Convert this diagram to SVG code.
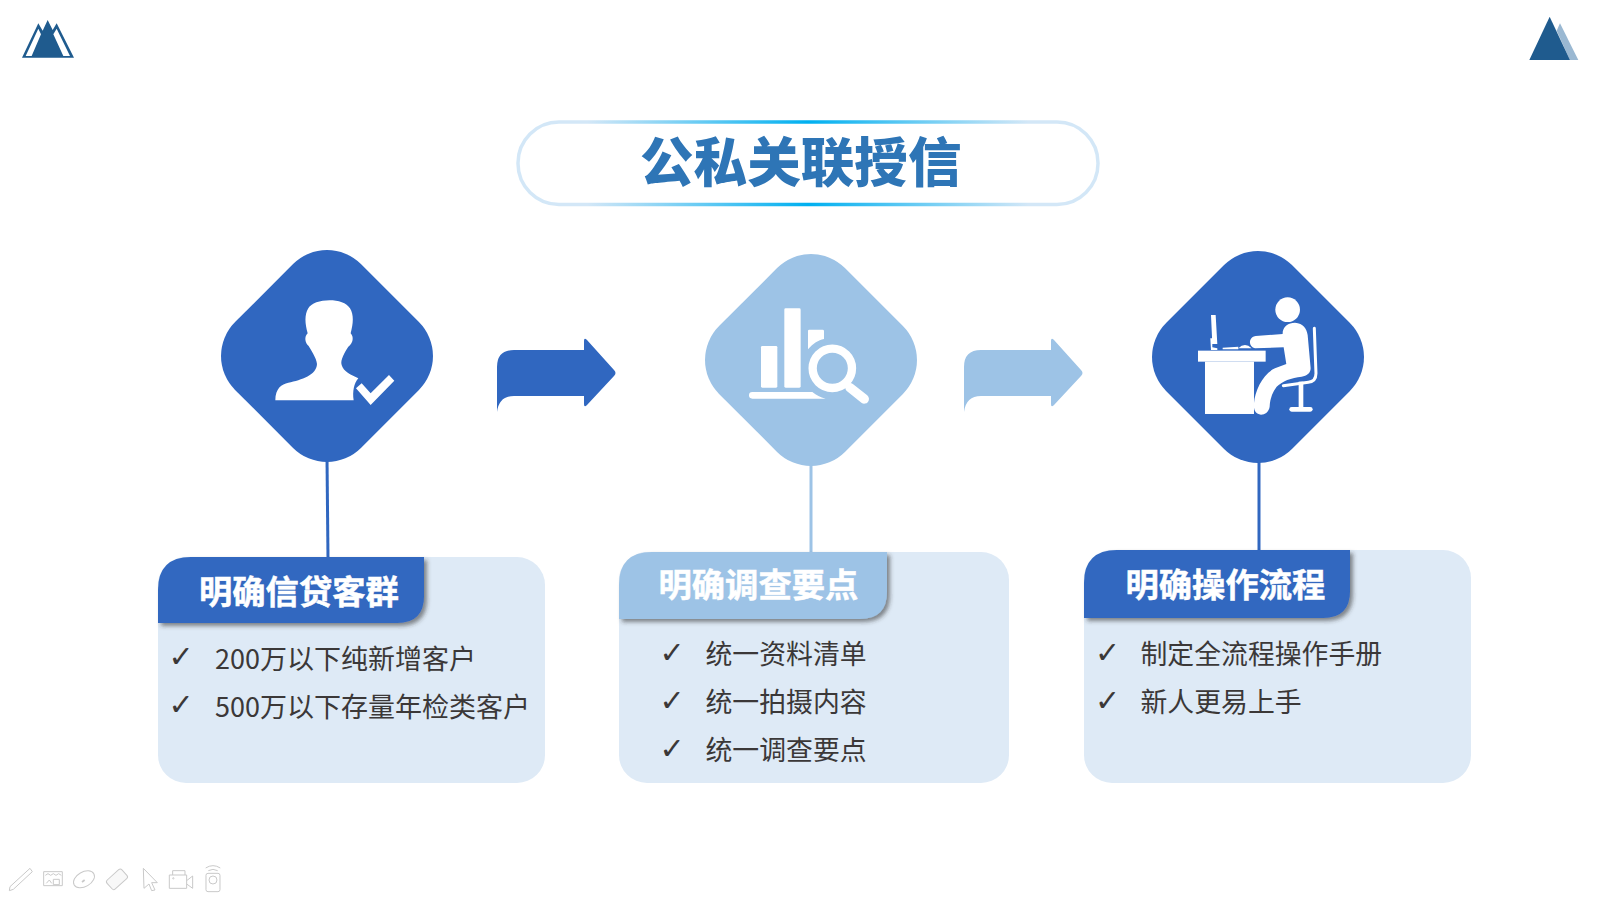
<svg xmlns="http://www.w3.org/2000/svg" width="1600" height="900" viewBox="0 0 1600 900">
<style>
text{font-family:"Noto Sans CJK SC","Noto Sans",sans-serif}
.title{font-size:53.6px;font-weight:900;fill:#2e75b6}
.head{font-size:33.3px;font-weight:700;fill:#fff;stroke:#fff;stroke-width:.5}
.body{font-size:26.85px;fill:#3b3838}
.chk{font-family:"DejaVu Sans",sans-serif;font-size:30px;fill:#3b3838}
.dk{fill:#3067c0}.lt{fill:#9dc3e6}.wh{fill:#fff}
.panel{fill:#deeaf6}
.tool{fill:none;stroke:#c9c9c9;stroke-width:3}
.ln{fill:none;stroke-width:3}
</style>
<defs>
<linearGradient id="pill" gradientUnits="userSpaceOnUse" x1="518" y1="0" x2="1098" y2="0">
<stop offset="0" stop-color="#d3e7f7"/><stop offset=".12" stop-color="#d3e7f7"/><stop offset=".5" stop-color="#00b0f0"/><stop offset=".88" stop-color="#d3e7f7"/><stop offset="1" stop-color="#d3e7f7"/>
</linearGradient>
<filter id="sh" x="-5%" y="-10%" width="112%" height="130%"><feDropShadow dx="3" dy="3" stdDeviation="2" flood-color="#333" flood-opacity=".55"/></filter>
<rect id="dia" x="-89" y="-89" width="178" height="178" rx="48" transform="rotate(45)"/>
<path id="arr" d="M0,62V17Q0,0 17,0H87V-9Q87,-13 90,-10L117,20Q120,23 117,26L90,55Q87,58 87,54V46H17Q2,46 0,62Z"/>
</defs>
<rect width="1600" height="900" fill="#fff"/>

<g id="logo-left" transform="scale(.3333)">
<path d="M66,173L115,70L128,92L143,60L158,90L170,70L222,173Z" fill="#1f5b8e"/>
<path class="wh" d="M115,86L123,103L95,168H77ZM170,86L210,168H190L160,103Z"/>
</g>
<g id="logo-right" transform="translate(1480 0) scale(.3333)">
<path d="M240,70L295,180H270L230,92Z" fill="#9ab8d2"/>
<path d="M209,50L270,180H148Z" fill="#1f5b8e"/>
</g>

<g id="title">
<rect x="518" y="122" width="580" height="82.5" rx="41" fill="#fff" stroke="url(#pill)" stroke-width="3.5"/>
<text class="title" x="640" y="182">公私关联授信</text>
</g>

<g id="connectors">
<path class="ln" stroke="#3067c0" d="M327,458L328,558"/>
<path class="ln" stroke="#9dc3e6" d="M811,462V553"/>
<path class="ln" stroke="#3067c0" d="M1259,460V551"/>
<use href="#arr" class="dk" x="497" y="350"/>
<use href="#arr" class="lt" x="964" y="350"/>
</g>

<g id="node-1">
<use href="#dia" class="dk" x="327" y="356"/>
<g class="wh" transform="translate(210 240) scale(.3333)">
<path d="M196,481C196,445 215,432 235,428C275,420 320,405 321,372C320,355 300,325 296,318C285,310 282,290 293,280C285,250 283,225 295,205C310,175 400,170 420,205C432,225 430,250 422,280C432,290 430,310 415,320C405,335 390,360 395,375C400,395 425,405 445,415C432,430 427,455 431,481Z"/>
<path d="M438,445L482,495L553,422L537,405L482,460L455,430Z"/>
</g>
<rect class="panel" x="158" y="557" width="387" height="226" rx="28"/>
<path class="dk" filter="url(#sh)" d="M158,623V590Q158,557 191,557H424V596Q424,623 397,623Z"/>
<text class="head" x="199" y="603.5">明确信贷客群</text>
<text class="chk" x="168.5" y="667">✓</text><text class="body" style="font-size:27px" x="215" y="669">200万以下纯新增客户</text>
<text class="chk" x="168.5" y="715">✓</text><text class="body" style="font-size:27px" x="215" y="717">500万以下存量年检类客户</text>
</g>

<g id="node-2">
<use href="#dia" class="lt" x="811" y="360"/>
<g class="wh" transform="translate(685 245) scale(.3333)">
<rect x="228" y="303" width="49" height="125" rx="4"/>
<rect x="298" y="190" width="49" height="238" rx="4"/>
<path d="M373,254H413Q417,254 417,258V282C400,285 385,295 369,313V258Q369,254 373,254Z"/>
<path d="M202,441H382C395,450 405,458 422,461H202A10,10 0 0 1 202,441Z"/>
<circle cx="442" cy="370" r="59" fill="none" stroke="#fff" stroke-width="25"/>
<path d="M495,428L538,462" fill="none" stroke="#fff" stroke-width="28" stroke-linecap="round"/>
</g>
<rect class="panel" x="619" y="552" width="390" height="231" rx="28"/>
<path class="lt" filter="url(#sh)" d="M619,619V585Q619,552 652,552H887V592Q887,619 860,619Z"/>
<text class="head" x="658.5" y="597">明确调查要点</text>
<text class="chk" x="659.5" y="663">✓</text><text class="body" x="705.5" y="664">统一资料清单</text>
<text class="chk" x="659.5" y="711">✓</text><text class="body" x="705.5" y="712">统一拍摄内容</text>
<text class="chk" x="659.5" y="759">✓</text><text class="body" x="705.5" y="760">统一调查要点</text>
</g>

<g id="node-3">
<use href="#dia" class="dk" x="1258" y="357"/>
<g class="wh" transform="translate(1125 240) scale(.3333)">
<rect x="219" y="332" width="203" height="33"/>
<rect x="240" y="365" width="147" height="157"/>
<path d="M258,225L272,225L277,312L262,312ZM256,295L262,295V322L277,325V330H258ZM293,323L340,320V328H293ZM340,325Q360,305 380,325Z"/>
<circle cx="488" cy="209" r="37"/>
<path d="M376,300Q380,290 392,288L473,282C472,260 490,248 510,248C535,250 545,265 548,285L557,385C557,400 545,408 530,410C500,412 470,425 455,440C440,460 435,480 434,500C432,515 420,524 408,524C392,522 385,510 387,490C390,450 415,400 450,385L484,372L476,322L390,325C378,322 372,310 376,300Z"/>
<path d="M568,265L573,400Q573,425 550,427L475,437" fill="none" stroke="#fff" stroke-width="9" stroke-linecap="round"/>
<rect x="521" y="425" width="14" height="80"/>
<rect x="493" y="501" width="70" height="14" rx="7"/>
</g>
<rect class="panel" x="1084" y="550" width="387" height="233" rx="28"/>
<path class="dk" filter="url(#sh)" d="M1084,618V583Q1084,550 1117,550H1350V591Q1350,618 1323,618Z"/>
<text class="head" x="1125.5" y="597">明确操作流程</text>
<text class="chk" x="1095" y="663">✓</text><text class="body" x="1140.5" y="664">制定全流程操作手册</text>
<text class="chk" x="1095" y="711">✓</text><text class="body" x="1140.5" y="712">新人更易上手</text>
</g>

<g id="toolbar" class="tool" transform="translate(0 860) scale(.3333)">
<path d="M30,80L90,25L97,35L40,88L28,92Z"/>
<path d="M131,35H187V77H131ZM136,46L144,41L152,46L160,41L168,46L176,41L184,46M160,58H178V74H160ZM139,70L148,60L155,70"/>
<ellipse cx="252" cy="58" rx="34" ry="22" transform="rotate(-30 252 58)"/>
<path d="M246,66L254,60" stroke-width="5"/>
<rect x="321" y="40" width="60" height="36" rx="7" transform="rotate(-42 351 58)" fill="#f8f8f8"/>
<path d="M430,25L472,68L455,68L465,90L455,92L447,72L432,85Z"/>
<path d="M508,45H560V85H508ZM518,45V32H555V45M560,62L578,48V85L560,72"/>
<circle cx="520" cy="55" r="2"/>
<rect x="618" y="40" width="42" height="55" rx="6"/><circle cx="639" cy="60" r="12"/>
<path d="M625,32Q639,24 653,32M617,24Q639,10 661,24"/>
</g>
</svg>
